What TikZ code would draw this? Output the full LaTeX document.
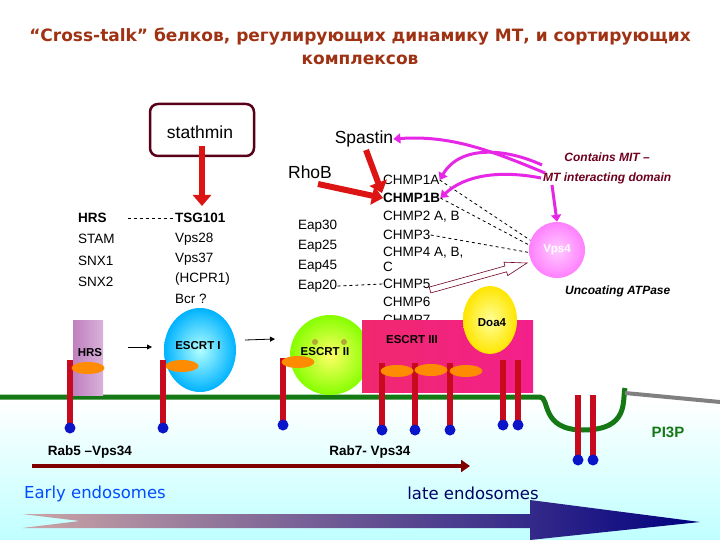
\documentclass[tikz,border=0pt]{standalone}
\usepackage{fontspec}
\setmainfont{Liberation Sans}
\newfontfamily\ttl{DejaVu Sans}
\usetikzlibrary{arrows.meta,shapes.geometric}
\definecolor{ttlc}{RGB}{160,50,20}
\definecolor{mred}{RGB}{220,20,20}
\definecolor{rod}{RGB}{200,10,30}
\definecolor{dblue}{RGB}{10,20,200}
\definecolor{mag}{RGB}{230,40,230}
\definecolor{itred}{RGB}{110,0,30}
\definecolor{memb}{RGB}{20,120,20}
\definecolor{escIII}{RGB}{240,40,110}
\begin{document}
\begin{tikzpicture}[x=1pt,y=-1pt,
  lab/.style={font=\fontsize{13.5}{15}\selectfont,anchor=west,inner sep=0},
  bl/.style={lab,font=\fontsize{13.5}{15}\selectfont\bfseries},
  redarr/.style={mred,line width=6pt,-{Triangle[length=11pt,width=18pt]}},
  magarr/.style={mag,line width=3pt,-{Triangle[length=7pt,width=10pt]}},
  dsh/.style={dashed,thick},
  itl/.style={font=\fontsize{12}{14}\selectfont\bfseries\itshape,inner sep=0},
  dot/.style={circle,fill=dblue,inner sep=0,minimum size=11pt},
  orng/.style={ellipse,fill=orange!90!yellow,inner sep=0,minimum width=33pt,minimum height=12pt},
  small/.style={font=\fontsize{11.5}{13}\selectfont\bfseries,inner sep=0},
  rball/.style={shading=radial,draw=none,inner sep=0}]
\useasboundingbox (0,0) rectangle (720,540);
% background
\shade[top color=white,bottom color=cyan!25] (0,400) rectangle (720,540);
\fill[white] (0,0) rectangle (720,398);
% title
\node[text=ttlc,font=\ttl\fontsize{17}{23}\selectfont\bfseries,align=center] (title) at (360,46)
 {“Cross-talk” белков, регулирующих динамику МТ, и сортирующих\\комплексов};
% stathmin
\node[draw=itred!80!black,line width=2.5pt,rounded corners=8pt,minimum width=104pt,minimum height=52pt] (stath) at (202,130) {};
\node[font=\fontsize{17.5}{19}\selectfont,inner sep=0] (stt) at (200,132) {stathmin};
\coordinate (tsgtop) at (202,206);
\draw[redarr] (202,146) -- (tsgtop);
\node[font=\fontsize{17.5}{19}\selectfont,inner sep=0] (spastin) at (364,139) {Spastin};
\node[font=\fontsize{17.5}{19}\selectfont,inner sep=0] (rhob) at (310,172) {RhoB};
% left column
\node[bl] (hrs) at (78,218) {HRS};
\node[lab] (stam) at (78,239) {STAM};
\node[lab] (snx1) at (78,261) {SNX1};
\node[lab] (snx2) at (78,282) {SNX2};
\node[bl] (tsg) at (175,218) {TSG101};
\node[lab] (v28) at (175,239) {Vps28};
\node[lab] (v37) at (175,259) {Vps37};
\node[lab] (hcpr) at (175,279) {(HCPR1)};
\node[lab] (bcr) at (175,299) {Bcr ?};
\draw[dsh] (128,218) -- (tsg.west);
\node[lab] (e30) at (298,226) {Eap30};
\node[lab] (e25) at (298,246) {Eap25};
\node[lab] (e45) at (298,266) {Eap45};
\node[lab] (e20) at (298,286) {Eap20};
% CHMP column
\node[lab] (c1a) at (383,180) {CHMP1A};
\node[bl] (c1b) at (383,198) {CHMP1B};
\node[lab] (c2) at (383,217) {CHMP2 A, B};
\node[lab] (c3) at (383,235) {CHMP3};
\node[lab] (c4) at (383,253) {CHMP4 A, B,};
\node[lab] (c4c) at (383,267) {C};
\node[lab] (c5) at (383,284) {CHMP5};
\node[lab] (c6) at (383,302) {CHMP6};
\node[lab] (c7) at (383,320) {CHMP7};
\draw[dsh] (e20.east) -- (c5.west);
% Vps4
\node[circle,minimum size=56pt,rball,inner color=magenta!20,outer color=magenta!50,text=white,font=\fontsize{11.5}{13}\selectfont\bfseries] (vps4) at (557,250) {Vps4};
\draw[dsh] (c1a.east) -- (vps4.160);
\draw[dsh] (c1b.east) -- (vps4.170);
\draw[dsh] (c3.east) -- (vps4.185);
\draw[draw=itred,fill=white,line width=0.6pt]
 (429.2,287.1) -- (505.0,266.0) -- (503.9,262.2) -- (527,263) -- (507.7,275.6) -- (506.6,271.8) -- (430.8,292.9) -- cycle;
% red arrows
\coordinate (spS) at (366,150);
\coordinate (rhS) at (318,184);
\draw[redarr] (spS) -- (382,193);
\draw[redarr] (rhS) -- (c1b.west);
% magenta arrows
\coordinate (mitA) at (545,173);
\coordinate (mitB) at (542,165);
\coordinate (mitC) at (541,178);
\draw[magarr] (mitA) .. controls (490,150) and (450,135) .. (spastin.east);
\draw[magarr] (mitB) .. controls (505,148) and (460,145) .. (c1a.east);
\draw[magarr] (mitC) .. controls (500,170) and (465,175) .. (c1b.east);
\draw[magarr] (552,185) -- (vps4.north);
\node[itl,text=itred,anchor=east] (mit1) at (650,157) {Contains MIT –};
\node[itl,text=itred,anchor=west] (mit2) at (543,178) {MT interacting domain};
\node[itl,text=black,anchor=west] (unc) at (565,291) {Uncoating ATPase};
% membrane
\draw[memb,line width=5pt] (0,397) -- (540,397) .. controls (550,397) and (540,430) .. (583,430) .. controls (630,430) and (622,400) .. (625,388);
\draw[gray,line width=4pt] (625,393) -- (720,402);
% complexes
\shade[left color=violet!50,right color=violet!30] (73,320) rectangle (103,395);
\node[small] (hrsl) at (90,353) {HRS};
\node[ellipse,minimum width=72pt,minimum height=84pt,rball,inner color=cyan!30,outer color=cyan!70!blue] (e1) at (200,350) {};
\node[small] (e1l) at (198,346) {ESCRT I};
\node[circle,minimum size=80pt,rball,inner color=yellow!60,outer color=lime!70!green] (e2) at (330,355) {};
\fill[olive!70] (315,342) circle (3) (344,342) circle (3);
\node[small] (e2l) at (325,352) {ESCRT II};
\shade[left color=escIII,right color=escIII!80!magenta] (362,320) rectangle (533,392);
\node[small] (e3l) at (412,340) {ESCRT III};
\node[ellipse,minimum width=54pt,minimum height=68pt,rball,inner color=yellow!40,outer color=yellow!80!orange] (doa) at (490,320) {};
\node[small] (doal) at (492,323) {Doa4};
\draw[-{Triangle[length=5pt,width=5pt]},thick] (128,347) -- (152,347);
\draw[-{Triangle[length=5pt,width=5pt]},thick] (245,340) -- (275,339);
% rods
\foreach \x/\t/\b [count=\i] in {70/360/428,163/360/428,283/358/425,382/363/430,415/363/430,450/363/430,503/360/425,518/360/425,578/395/460,593/395/460}{
  \fill[rod] (\x-3,\t) rectangle (\x+3,\b);
  \node[dot] (d\i) at (\x,\b) {};
}
\foreach \x/\y in {88/368,182/366,298/362,397/371,431/370,466/371}
  \node[orng] at (\x,\y) {};
% bottom labels
\node[font=\fontsize{13.5}{15}\selectfont\bfseries] (rab5) at (90,452) {Rab5 –Vps34};
\node[font=\fontsize{13.5}{15}\selectfont\bfseries] (rab7) at (370,452) {Rab7- Vps34};
\coordinate (ra) at (32,466); \coordinate (rb) at (470,466);
\draw[red!50!black,line width=4pt,-{Triangle[length=9pt,width=12pt]}] (ra) -- (rb);
\node[font=\ttl\fontsize{16.5}{18}\selectfont,text=blue!70!cyan] (early) at (95,494) {Early endosomes};
\node[font=\ttl\fontsize{16.5}{18}\selectfont,text=blue!40!black] (late) at (473,493) {late endosomes};
\node[font=\fontsize{15}{17}\selectfont\bfseries,text=memb] (pi3p) at (668,432) {PI3P};
\shade[left color=gray!40!pink,right color=blue!50!black]
 (22,514) -- (530,514) -- (530,500) -- (700,522) -- (530,540) -- (530,528) -- (22,528) -- (80,521) -- cycle;
\end{tikzpicture}
\end{document}
